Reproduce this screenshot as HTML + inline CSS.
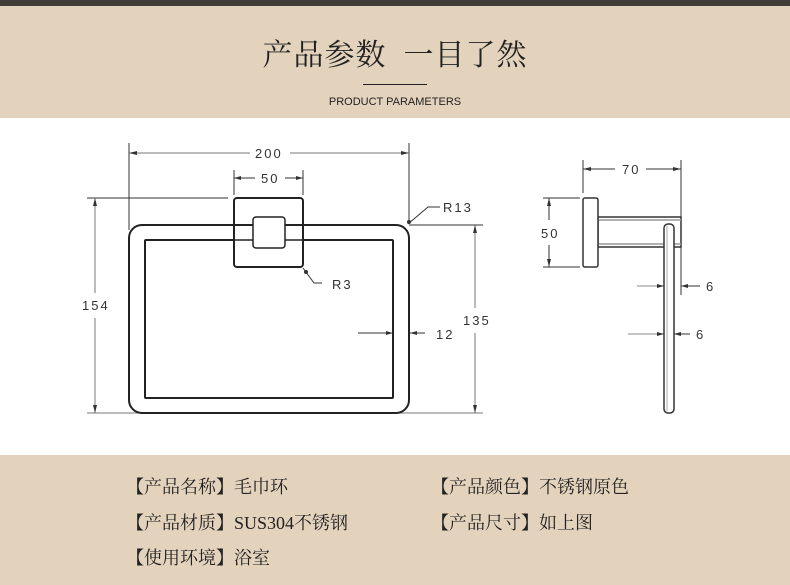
<!DOCTYPE html>
<html><head><meta charset="utf-8"><style>
html,body{margin:0;padding:0;width:790px;height:585px;overflow:hidden;background:#fff;}
.top{position:absolute;left:0;top:0;width:790px;height:6px;background:#403d39;}
.hdr{position:absolute;left:0;top:6px;width:790px;height:112px;background:#e4d3bc;}
.ftr{position:absolute;left:0;top:455px;width:790px;height:130px;background:#e4d3bc;}
.title{position:absolute;left:0;width:790px;top:30px;text-align:center;font-family:"Liberation Serif","Noto Serif CJK SC",serif;font-size:30px;color:#222;letter-spacing:1px;}
.bar{position:absolute;left:363px;top:84px;width:64px;height:1px;background:#222;}
.sub{position:absolute;left:0;width:790px;top:96px;text-align:center;font-family:"Liberation Sans",sans-serif;font-size:11px;color:#222;}
.t{position:absolute;font-family:"Liberation Serif","Noto Serif CJK SC",serif;font-size:18px;color:#222;white-space:nowrap;}
svg{position:absolute;left:0;top:0;}
</style></head><body>
<div class="top"></div>
<div class="hdr"></div>
<div class="title">产品参数&nbsp;&nbsp;一目了然</div>
<div class="bar"></div>
<div class="sub">PRODUCT PARAMETERS</div>
<svg width="790" height="585" viewBox="0 0 790 585" font-family="Liberation Sans, sans-serif" font-size="13" fill="none">
<g stroke="#333" stroke-width="1">
 <!-- 200 dim -->
 <line x1="129" y1="143" x2="129" y2="230"/>
 <line x1="409" y1="143" x2="409" y2="222"/>
 <line x1="129" y1="153" x2="250" y2="153" stroke="#777"/>
 <line x1="290" y1="153" x2="409" y2="153" stroke="#777"/>
 <!-- 50 dim -->
 <line x1="234" y1="170" x2="234" y2="195"/>
 <line x1="303" y1="170" x2="303" y2="195"/>
 <line x1="234" y1="178" x2="255" y2="178"/>
 <line x1="285" y1="178" x2="303" y2="178"/>
 <!-- horizontal refs -->
 <line x1="87" y1="198" x2="228" y2="198"/>
 <line x1="409" y1="225" x2="483" y2="225"/>
 <line x1="87" y1="413" x2="483" y2="413" stroke="#777"/>
 <!-- 154 -->
 <line x1="95" y1="198" x2="95" y2="293" stroke="#777"/>
 <line x1="95" y1="318" x2="95" y2="413" stroke="#777"/>
 <!-- 135 -->
 <line x1="475" y1="225" x2="475" y2="308" stroke="#777"/>
 <line x1="475" y1="333" x2="475" y2="413" stroke="#777"/>
 <!-- 12 -->
 <line x1="358" y1="333" x2="393" y2="333"/>
 <line x1="410" y1="333" x2="425" y2="333"/>
 <!-- R13 -->
 <polyline points="408,224 428,207 440,207"/>
 <!-- R3 -->
 <polyline points="303,268 314,283 322,283"/>
</g>
<g stroke="#222" stroke-width="2">
 <rect x="129" y="225" width="280" height="188" rx="13"/>
 <rect x="145" y="240" width="248" height="158" rx="1"/>
 <rect x="234" y="198" width="69" height="69" rx="3" fill="#fff"/>
 <line x1="234" y1="225" x2="303" y2="225"/>
 <line x1="234" y1="240" x2="303" y2="240" stroke-width="1.5"/>
 <rect x="253" y="217" width="32" height="31" rx="3" fill="#fff" stroke-width="1.5"/>
</g>
<!-- arrowheads -->
<g fill="#333">
 <path d="M129 153 l8 -2 v4z M409 153 l-8 -2 v4z M234 178 l7 -2 v4z M303 178 l-7 -2 v4z"/>
 <path d="M95 198 l-2 8 h4z M95 413 l-2 -8 h4z M475 225 l-2 8 h4z M475 413 l-2 -8 h4z"/>
 <path d="M393 333 l-7 -2 v4z M410 333 l7 -2 v4z"/>
 <circle cx="409" cy="222" r="2"/><circle cx="306" cy="272" r="2"/>
</g>
<g fill="#333" font-size="13" letter-spacing="2">
 <text x="255" y="158">200</text>
 <text x="261" y="183">50</text>
 <text x="443" y="212">R13</text>
 <text x="332" y="289">R3</text>
 <text x="82" y="310">154</text>
 <text x="463" y="325">135</text>
 <text x="436" y="339">12</text>
</g>
<!-- side view -->
<g stroke="#333" stroke-width="1">
 <line x1="583" y1="160" x2="583" y2="193"/>
 <line x1="681" y1="160" x2="681" y2="295"/>
 <line x1="583" y1="169" x2="615" y2="169"/>
 <line x1="646" y1="169" x2="681" y2="169"/>
 <line x1="543" y1="198" x2="580" y2="198"/>
 <line x1="543" y1="267" x2="580" y2="267"/>
 <line x1="549" y1="198" x2="549" y2="220"/>
 <line x1="549" y1="245" x2="549" y2="267"/>
 <line x1="637" y1="286" x2="664" y2="286" stroke="#888"/>
 <line x1="681" y1="286" x2="700" y2="286"/>
 <line x1="628" y1="334" x2="664" y2="334" stroke="#888"/>
 <line x1="674" y1="334" x2="690" y2="334"/>
</g>
<g stroke="#333" stroke-width="1.5" fill="#fff">
 <rect x="598" y="217" width="83" height="30"/>
 <line x1="598" y1="220" x2="681" y2="220" stroke="#999"/>
 <line x1="598" y1="244" x2="681" y2="244" stroke="#999"/>
 <rect x="583" y="198" width="15" height="69" rx="2"/>
 <rect x="664" y="224" width="10" height="189" rx="4"/>
 <line x1="667" y1="226" x2="667" y2="411" stroke="#aaa" stroke-width="1"/>
</g>
<g fill="#333">
 <path d="M583 169 l8 -2 v4z M681 169 l-8 -2 v4z M549 198 l-2 8 h4z M549 267 l-2 -8 h4z"/>
 <path d="M664 286 l-7 -2 v4z M681 286 l7 -2 v4z M664 334 l-7 -2 v4z M674 334 l7 -2 v4z"/>
</g>
<g fill="#333" font-size="13" letter-spacing="2">
 <text x="622" y="174">70</text>
 <text x="541" y="238">50</text>
 <text x="706" y="291">6</text>
 <text x="696" y="339">6</text>
</g>
</svg>
<div class="ftr"></div>
<div class="t" style="left:126px;top:473px">【产品名称】毛巾环</div>
<div class="t" style="left:431px;top:473px">【产品颜色】不锈钢原色</div>
<div class="t" style="left:126px;top:509px">【产品材质】SUS304不锈钢</div>
<div class="t" style="left:431px;top:509px">【产品尺寸】如上图</div>
<div class="t" style="left:126px;top:544px">【使用环境】浴室</div>
</body></html>
